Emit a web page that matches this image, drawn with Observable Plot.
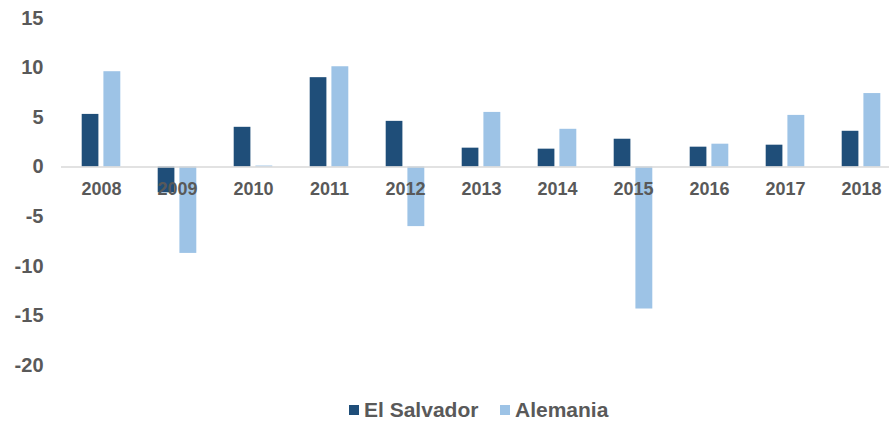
<!DOCTYPE html>
<html><head><meta charset="utf-8">
<script src="https://cdn.jsdelivr.net/npm/d3@7"></script>
<script src="https://cdn.jsdelivr.net/npm/@observablehq/plot@0.6"></script>
<style>
body{margin:0;background:#fff;font-family:"Liberation Sans",Arial,sans-serif;}
#chart{width:889px;}
#legend{position:relative;height:32px;width:889px;}
.item{position:absolute;top:10px;height:20px;display:flex;align-items:center;font-weight:bold;font-size:21px;color:#595959;}
.sw{width:10px;height:10px;margin-right:5px;}
</style></head><body>
<div id="chart"></div>
<div id="legend"></div>
<script>
const years = ["2008","2009","2010","2011","2012","2013","2014","2015","2016","2017","2018"];
const elSalvador = [5.3, -2.6, 4.0, 9.0, 4.6, 1.9, 1.8, 2.8, 2.0, 2.2, 3.6];
const alemania = [9.6, -8.7, 0.1, 10.1, -6.0, 5.5, 3.8, -14.3, 2.3, 5.2, 7.4];
const yTicks = [15, 10, 5, 0, -5, -10, -15, -20];
const seriesNames = ["El Salvador", "Alemania"];
const seriesColors = ["#1F4E79", "#9DC3E6"];

const esData = years.map((y, i) => ({year: y, value: elSalvador[i]}));
const deData = years.map((y, i) => ({year: y, value: alemania[i]}));

const chart = Plot.plot({
  width: 889,
  height: 390,
  marginLeft: 61,
  marginRight: 0,
  marginTop: 17.6,
  marginBottom: 24.9,
  style: {fontFamily: "'Liberation Sans', Arial, sans-serif", color: "#595959", background: "#fff"},
  x: {type: "band", domain: years, range: [61.35, 900.65], padding: 0, axis: null},
  y: {domain: [-20, 15], ticks: yTicks, label: null},
  marks: [
    Plot.barY(esData, {x: "year", y: "value", fill: seriesColors[0], insetLeft: 18.7, insetRight: 40.6}),
    Plot.barY(deData, {x: "year", y: "value", fill: seriesColors[1], insetLeft: 40.4, insetRight: 18.7}),
    Plot.ruleY([0], {stroke: "#d9d9d9", strokeWidth: 1.5}),
    Plot.axisY({ticks: yTicks, tickSize: 0, tickPadding: 18, fontSize: 20, fontWeight: "bold", fill: "#595959", label: null, tickFormat: d => String(d)}),
    Plot.text(years, {x: d => d, y: () => 0, dy: 22.5, fill: "#595959", fontSize: 18, fontWeight: "bold", text: d => d})
  ]
});
document.getElementById("chart").appendChild(chart);

const legend = document.getElementById("legend");
const lefts = [349, 500];
seriesNames.forEach((n, i) => {
  const it = document.createElement("div");
  it.className = "item";
  it.style.left = lefts[i] + "px";
  it.innerHTML = `<span class="sw" style="background:${seriesColors[i]}"></span><span>${n}</span>`;
  legend.appendChild(it);
});
</script>
</body></html>
